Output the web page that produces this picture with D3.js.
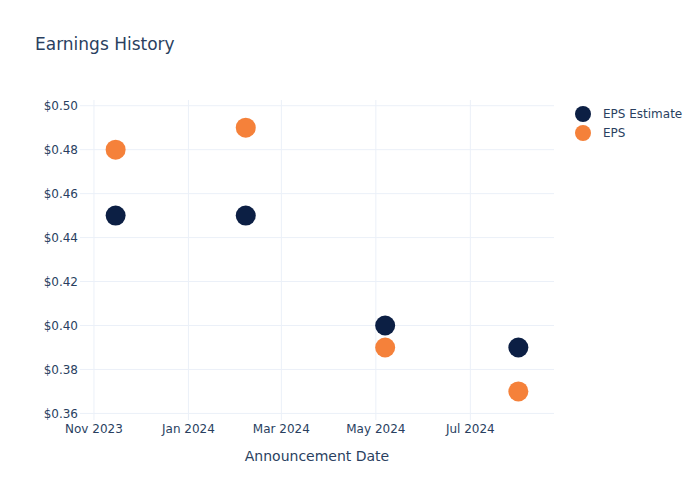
<!DOCTYPE html>
<html>
<head>
<meta charset="utf-8">
<script src="https://cdn.jsdelivr.net/npm/d3@7"></script>
<style>
  body { margin: 0; background: #fff; }
  text { font-family: "DejaVu Sans", Verdana, sans-serif; fill: #2a3f5f; }
</style>
</head>
<body>
<svg id="chart" width="700" height="500"></svg>
<script>
// ---------------- Дані ----------------
const dates = ["2023-11-15", "2024-02-07", "2024-05-07", "2024-08-01"];
const estimate = [0.45, 0.45, 0.40, 0.39];
const actual = [0.48, 0.49, 0.39, 0.37];
const yTicks = [0.36, 0.38, 0.40, 0.42, 0.44, 0.46, 0.48, 0.50];
const xTicks = ["2023-11-01", "2024-01-01", "2024-03-01", "2024-05-01", "2024-07-01"];
const seriesNames = ["EPS Estimate", "EPS"];
const colors = ["#0c1f44", "#f5813a"];

const parse = d3.timeParse("%Y-%m-%d");
const svg = d3.select("#chart");
const m = { l: 80, r: 146, t: 100, b: 80 };
const W = 700, H = 500;

const x = d3.scaleTime()
  .domain([parse("2023-10-23"), parse("2024-08-24")])
  .range([m.l, W - m.r]);
const y = d3.scaleLinear()
  .domain([0.3570, 0.5026])
  .range([H - m.b, m.t]);

// сітка
svg.append("g")
  .selectAll("line")
  .data(yTicks)
  .join("line")
  .attr("x1", m.l).attr("x2", W - m.r)
  .attr("y1", d => y(d)).attr("y2", d => y(d))
  .attr("stroke", "#ebf0f8");
svg.append("g")
  .selectAll("line")
  .data(xTicks)
  .join("line")
  .attr("x1", d => x(parse(d))).attr("x2", d => x(parse(d)))
  .attr("y1", m.t).attr("y2", H - m.b)
  .attr("stroke", "#ebf0f8");

// підписи осей
svg.append("g")
  .selectAll("text")
  .data(yTicks)
  .join("text")
  .attr("x", m.l - 2)
  .attr("y", d => y(d))
  .attr("dy", "0.35em")
  .attr("text-anchor", "end")
  .style("font-size", "12px")
  .text(d => d3.format("$.2f")(d));
svg.append("g")
  .selectAll("text")
  .data(xTicks)
  .join("text")
  .attr("x", d => x(parse(d)))
  .attr("y", H - m.b + 13)
  .attr("text-anchor", "middle")
  .style("font-size", "12px")
  .text(d => d3.timeFormat("%b %Y")(parse(d)));

svg.append("text")
  .attr("x", (m.l + W - m.r) / 2)
  .attr("y", 461)
  .attr("text-anchor", "middle")
  .style("font-size", "14px")
  .text("Announcement Date");

svg.append("text")
  .attr("x", 35)
  .attr("y", 50)
  .style("font-size", "17px")
  .text("Earnings History");

// точки
[estimate, actual].forEach((vals, i) => {
  svg.append("g")
    .selectAll("circle")
    .data(vals)
    .join("circle")
    .attr("cx", (d, j) => x(parse(dates[j])))
    .attr("cy", d => y(d))
    .attr("r", 10)
    .attr("fill", colors[i]);
});

// легенда
const leg = svg.append("g")
  .selectAll("g")
  .data(seriesNames)
  .join("g")
  .attr("transform", (d, i) => `translate(583,${114 + i * 19})`);
leg.append("circle").attr("r", 8).attr("fill", (d, i) => colors[i]);
leg.append("text")
  .attr("x", 20)
  .attr("dy", "0.35em")
  .style("font-size", "12px")
  .text(d => d);
</script>
</body>
</html>
